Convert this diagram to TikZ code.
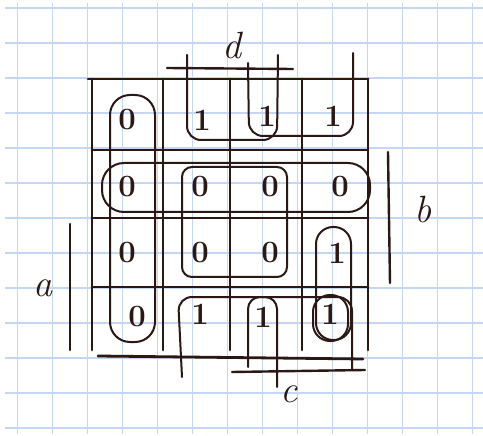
\documentclass[tikz,border=0pt]{standalone}
\usepackage{tikz}
\usetikzlibrary{calc}
\definecolor{kmInk}{HTML}{2B1814}
\definecolor{kmPaper}{HTML}{C4D6F2}
\tikzset{
  paperline/.style={draw=kmPaper, line width=1.1pt},
  gridline/.style={draw=kmInk, line width=2.8pt, line cap=round},
  barline/.style={draw=kmInk, line width=2.4pt, line cap=round},
  loopline/.style={draw=kmInk, line width=2pt, line cap=round, rounded corners=14pt},
  cellval/.style={text=kmInk, font=\fontsize{31}{31}\selectfont\bfseries, inner sep=0pt},
  varlabel/.style={text=kmInk, font=\fontsize{38}{38}\selectfont\itshape, inner sep=0pt}
}

\begin{document}
\begin{tikzpicture}[x=1pt, y=-1pt]
  \useasboundingbox[fill=white] (0,0) rectangle (483,436);
  \foreach \k in {0,...,13}
    \draw[paperline] ({17.5+35*\k},3) -- ({17.5+35*\k},434);
  \foreach \k in {0,...,12}
    \draw[paperline] (5,{8+35*\k}) -- (483,{8+35*\k});

  % map grid
  \draw[gridline] (88,79) -- (368,79);
  \foreach \y in {150,218,287}
    \draw[gridline] (92,\y) -- (368,\y);
  \draw[gridline] (98,356) -- (363,359);
  \foreach \x in {92,163,230,302,368}
    \draw[gridline] (\x,79) -- (\x,350);

  % cell values
  \node[cellval] (v11) at (127,120) {0};
  \node[cellval] (v12) at (202,120) {1};
  \node[cellval] (v13) at (267,116) {1};
  \node[cellval] (v14) at (333,116) {1};
  \node[cellval] (v21) at (127,187) {0};
  \node[cellval] (v22) at (200,187) {0};
  \node[cellval] (v23) at (270,187) {0};
  \node[cellval] (v24) at (340,187) {0};
  \node[cellval] (v31) at (127,253) {0};
  \node[cellval] (v32) at (200,253) {0};
  \node[cellval] (v33) at (270,253) {0};
  \node[cellval] (v34) at (337,253) {1};
  \node[cellval] (v41) at (137,317) {0};
  \node[cellval] (v42) at (200,314) {1};
  \node[cellval] (v43) at (263,317) {1};
  \node[cellval] (v44) at (330,314) {1};

  % loops
  \draw[loopline, rounded corners=20pt] (110,95) rectangle (155,342);
  \draw[loopline, rounded corners=22pt] (102,163) rectangle (370,212);
  \draw[loopline, rounded corners=10pt] (182,167) rectangle (287,277);
  \draw[loopline, rounded corners=17pt] (316,227) rectangle (351,340);
  \draw[loopline, rounded corners=17pt] (313,295) rectangle (348,341);
  \draw[loopline] (187,55) -- (187,140) -- (277,140) -- (278,55);
  \draw[loopline] (248,63) -- (249,136) -- (353,136) -- (353,53);
  \draw[loopline] (182,377) -- (178,297) -- (352,297) -- (352,370);
  \draw[loopline, rounded corners=12pt] (248,367) -- (248,297) -- (277,297) -- (277,387);

  % variable labels
  \node[varlabel] (dlab) at (232,46) {d};
  \draw[barline] (167,68) -- (293,69);
  \node[varlabel] (blab) at (423,210) {b};
  \draw[barline] (388,152) -- (390,283);
  \node[varlabel] (alab) at (43,288) {a};
  \draw[barline] (70,224) -- (70,350);
  \node[varlabel] (clab) at (289,394) {c};
  \draw[barline] (232,372) -- (365,370);
\end{tikzpicture}
\end{document}
